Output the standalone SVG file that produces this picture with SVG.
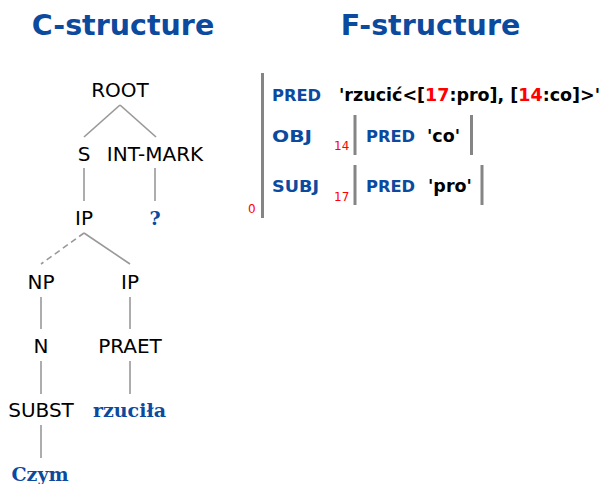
<svg xmlns="http://www.w3.org/2000/svg" width="601" height="484" viewBox="0 0 601 484">
<style>
.title{font-family:"DejaVu Sans",Verdana,sans-serif;font-weight:bold;font-size:28.5px;fill:#0b4a9e;text-anchor:middle}
.cat{font-family:"DejaVu Sans",Verdana,sans-serif;font-size:20px;fill:#000;text-anchor:middle}
.word{font-family:"DejaVu Serif",Georgia,serif;font-weight:bold;font-size:19px;fill:#0b4a9e;text-anchor:middle}
.attr{font-family:"DejaVu Sans",Verdana,sans-serif;font-weight:bold;font-size:16.3px;fill:#0b4a9e}
.val{font-family:"DejaVu Sans",Verdana,sans-serif;font-weight:bold;font-size:17.5px;fill:#000}
.red{fill:#ff0000}
.idx{font-family:"DejaVu Sans",Verdana,sans-serif;font-size:12px;fill:#ff0000}
.edge{stroke:#999;stroke-width:1.6;fill:none}
.dash{stroke-dasharray:6,4}
.br{stroke:#858585;stroke-width:3;fill:none}
</style>
<g id="titles">
<text class="title" x="123" y="35">C-structure</text>
<text class="title" x="430.5" y="35">F-structure</text>
</g>
<g id="connectors">
<line class="edge" x1="120" y1="105" x2="84" y2="137"/>
<line class="edge" x1="120" y1="105" x2="156" y2="137"/>
<line class="edge" x1="84" y1="168" x2="84" y2="201"/>
<line class="edge" x1="155" y1="168" x2="155" y2="201"/>
<line class="edge dash" x1="84" y1="233" x2="41" y2="264"/>
<line class="edge" x1="84" y1="233" x2="130" y2="264"/>
<line class="edge" x1="41" y1="297" x2="41" y2="329"/>
<line class="edge" x1="130" y1="297" x2="130" y2="329"/>
<line class="edge" x1="41" y1="361" x2="41" y2="394"/>
<line class="edge" x1="130" y1="361" x2="130" y2="394"/>
<line class="edge" x1="41" y1="425" x2="41" y2="458"/>
</g>
<g id="n-root"><text class="cat" x="120" y="97">ROOT</text></g>
<g id="n-s"><text class="cat" x="84" y="161">S</text></g>
<g id="n-intmark"><text class="cat" x="155" y="161">INT-MARK</text></g>
<g id="n-ip1"><text class="cat" x="84" y="225">IP</text></g>
<g id="n-q"><text class="word" x="155" y="225">?</text></g>
<g id="n-np"><text class="cat" x="41" y="289">NP</text></g>
<g id="n-ip2"><text class="cat" x="130" y="289">IP</text></g>
<g id="n-n"><text class="cat" x="41" y="353">N</text></g>
<g id="n-praet"><text class="cat" x="130" y="353">PRAET</text></g>
<g id="n-subst"><text class="cat" x="41" y="417">SUBST</text></g>
<g id="n-rzucila"><text class="word" x="129.5" y="417">rzuciła</text></g>
<g id="n-czym"><text class="word" x="40" y="481">Czym</text></g>
<g id="f-outer">
<line class="br" x1="262.5" y1="73" x2="262.5" y2="218"/>
<text class="idx" x="248" y="213">0</text>
<text class="attr" x="272" y="101">PRED</text>
<text class="val" x="339" y="101">'rzucić&lt;[<tspan class="red">17</tspan>:pro], [<tspan class="red">14</tspan>:co]&gt;'</text>
<text class="attr" x="272" y="142" textLength="40" lengthAdjust="spacingAndGlyphs">OBJ</text>
<text class="attr" x="272" y="192" textLength="47" lengthAdjust="spacingAndGlyphs">SUBJ</text>
</g>
<g id="f-obj">
<line class="br" x1="355" y1="115" x2="355" y2="155"/>
<line class="br" x1="471.5" y1="115" x2="471.5" y2="155"/>
<text class="idx" x="334" y="150">14</text>
<text class="attr" x="366" y="142">PRED</text>
<text class="val" x="427" y="142">'co'</text>
</g>
<g id="f-subj">
<line class="br" x1="355" y1="165" x2="355" y2="205"/>
<line class="br" x1="482" y1="165" x2="482" y2="205"/>
<text class="idx" x="334" y="201">17</text>
<text class="attr" x="366" y="192">PRED</text>
<text class="val" x="428" y="192">'pro'</text>
</g>
</svg>
